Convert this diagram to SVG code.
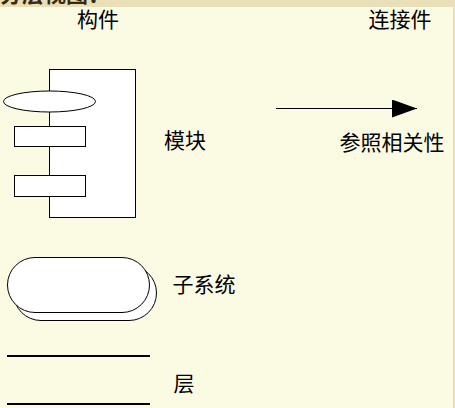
<svg xmlns="http://www.w3.org/2000/svg" width="455" height="408" viewBox="0 0 455 408">
<defs>
<style>
.t{font-family:"Noto Sans CJK SC","Noto Sans",sans-serif;font-size:21px;fill:#000}
.s{fill:#fff;stroke:#000;stroke-width:1}
.ln{stroke:#000;stroke-width:1;fill:none}
</style>
<clipPath id="topclip"><rect x="0" y="0" width="455" height="7"/></clipPath>
<marker id="arr" markerWidth="26" markerHeight="18" refX="25" refY="9" orient="auto" markerUnits="userSpaceOnUse">
<path d="M0,0 L25,9 L0,18 Z" fill="#000"/>
</marker>
</defs>
<rect x="0" y="0" width="455" height="408" fill="#FBFAE3"/>
<rect x="0" y="0" width="455" height="7" fill="#E9DFB8"/>
<rect x="453" y="0" width="2" height="408" fill="#E9DFB8"/>
<g clip-path="url(#topclip)">
<text x="0" y="2" font-family="'Noto Sans CJK SC',sans-serif" font-size="22" font-weight="bold" fill="#3A2A12">分层视图：</text>
</g>
<text class="t" x="98" y="27" text-anchor="middle">构件</text>
<text class="t" x="400" y="27" text-anchor="middle">连接件</text>
<g id="module">
<rect class="s" x="49.5" y="69.5" width="86" height="148"/>
<ellipse class="s" cx="49.5" cy="101.5" rx="46" ry="10.5"/>
<rect class="s" x="14.5" y="126.5" width="71" height="20"/>
<rect class="s" x="14.5" y="175.5" width="71" height="21"/>
<text class="t" x="185" y="148" text-anchor="middle">模块</text>
</g>
<g id="connectors">
<line class="ln" x1="276" y1="108.5" x2="417" y2="108.5" marker-end="url(#arr)"/>
<text class="t" x="392" y="150" text-anchor="middle">参照相关性</text>
</g>
<g id="subsystem">
<rect class="s" x="13.5" y="265.5" width="143" height="55" rx="27.5"/>
<rect class="s" x="7.5" y="257.5" width="142" height="55" rx="27.5"/>
<text class="t" x="204" y="292" text-anchor="middle">子系统</text>
</g>
<g id="layer">
<line x1="7" y1="356" x2="150" y2="356" stroke="#000" stroke-width="2"/>
<line x1="7" y1="404" x2="150" y2="404" stroke="#000" stroke-width="2"/>
<text class="t" x="184" y="391" text-anchor="middle">层</text>
</g>
</svg>
